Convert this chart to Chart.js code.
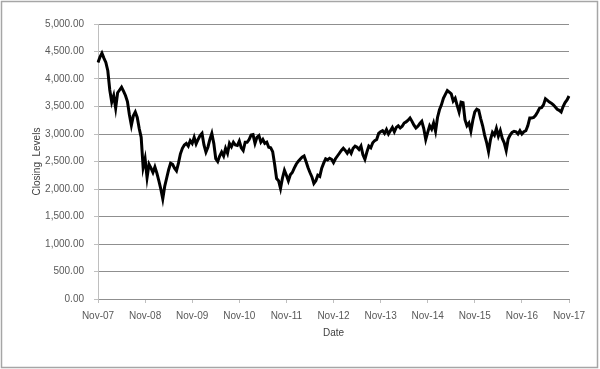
<!DOCTYPE html>
<html>
<head>
<meta charset="utf-8">
<script src="https://cdn.jsdelivr.net/npm/chart.js@4.4.1/dist/chart.umd.min.js"></script>
<style>
  html, body { margin: 0; padding: 0; background: #ffffff; }
  #wrap { position: relative; width: 600px; height: 369px; }
</style>
</head>
<body>
<div id="wrap"><canvas id="chart" width="600" height="369"></canvas></div>
<script>
// Tick labels along the date axis (one every 24 half-month periods)
const tickLabels = ['Nov-07', 'Nov-08', 'Nov-09', 'Nov-10', 'Nov-11', 'Nov-12',
                    'Nov-13', 'Nov-14', 'Nov-15', 'Nov-16', 'Nov-17'];
const periodsPerTick = 24;

// Closing levels, read off the picture roughly twice a month, Nov-07 .. Nov-17
const closingLevels = [
  4300, 4400, 4470, 4380, 4300, 4150, 3800, 3580, 3700, 3470,
  3750, 3800, 3850, 3780, 3700, 3590, 3350, 3160, 3330, 3400,
  3300, 3100, 2940, 2390, 2550, 2210, 2450, 2380, 2300, 2400,
  2290, 2150, 2000, 1820, 2050, 2200, 2350, 2470, 2450, 2380,
  2330, 2470, 2640, 2740, 2800, 2830, 2780, 2880, 2830, 2940,
  2820, 2900, 2970, 3010, 2800, 2670, 2760, 2900, 3010, 2830,
  2550, 2500, 2600, 2670, 2600, 2740, 2650, 2830, 2770, 2850,
  2800, 2790, 2870, 2750, 2700, 2850, 2850, 2900, 2980, 2990,
  2830, 2940, 2970, 2850, 2900, 2830, 2850, 2760, 2750, 2680,
  2450, 2190, 2150, 2010, 2200, 2340, 2250, 2150, 2260, 2300,
  2380, 2450, 2500, 2540, 2580, 2600, 2500, 2390, 2300, 2220,
  2100, 2150, 2250, 2230, 2380, 2470, 2550, 2530, 2560, 2540,
  2480, 2550, 2600, 2650, 2700, 2740, 2700, 2650, 2710, 2650,
  2740, 2780, 2760, 2720, 2780, 2620, 2540, 2670, 2780, 2750,
  2840, 2880, 2900, 3010, 3040, 3060, 3010, 3080, 3000, 3060,
  3120, 3040, 3120, 3150, 3110, 3140, 3200, 3220, 3250, 3290,
  3230, 3160, 3110, 3140, 3190, 3230, 3100, 2900, 3030, 3150,
  3090, 3200, 3050, 3300, 3440, 3530, 3650, 3720, 3790, 3760,
  3730, 3600, 3650, 3520, 3400, 3580, 3570, 3260, 3150, 3200,
  3050, 3250, 3400, 3450, 3430, 3280, 3150, 2980, 2850, 2680,
  2900, 3030, 2980, 3100, 2960, 3060, 2920, 2840, 2700, 2910,
  2980, 3030, 3050, 3040, 3000, 3060, 3000, 3040, 3060, 3150,
  3290, 3290, 3300, 3340, 3400, 3470, 3480, 3530, 3640, 3610,
  3580, 3560, 3530, 3490, 3450, 3430, 3400, 3500, 3570, 3620,
  3690
];

const yMin = 0;
const yMax = 5000;
const yStep = 500;

const textColor = '#595959';
const gridColor = '#8f8f8f';

// outer frame like the spreadsheet chart border
const framePlugin = {
  id: 'frame',
  afterDraw(chart) {
    const ctx = chart.ctx;
    ctx.save();
    ctx.strokeStyle = '#a6a6a6';
    ctx.lineWidth = 1.5;
    ctx.strokeRect(1.5, 1.5, chart.width - 4, chart.height - 3);
    ctx.restore();
  }
};

const fmt = new Intl.NumberFormat('en-US', { minimumFractionDigits: 2, maximumFractionDigits: 2 });

new Chart(document.getElementById('chart'), {
  type: 'line',
  data: {
    labels: closingLevels.map((_, i) => i),
    datasets: [{
      label: 'Closing Levels',
      data: closingLevels,
      borderColor: '#000000',
      borderWidth: 3,
      pointRadius: 0,
      tension: 0,
      fill: false
    }]
  },
  options: {
    responsive: false,
    animation: false,
    layout: { padding: { left: 31, right: 31, top: 24, bottom: 30 } },
    plugins: {
      legend: { display: false },
      tooltip: { enabled: false }
    },
    scales: {
      x: {
        type: 'category',
        offset: false,
        grid: { display: true, drawOnChartArea: false, drawTicks: true, tickLength: 4, color: '#bfbfbf' },
        border: { display: true, color: gridColor },
        ticks: {
          autoSkip: false,
          maxRotation: 0,
          padding: 8,
          color: textColor,
          font: { family: "'Liberation Sans', Arial, sans-serif", size: 10, lineHeight: 1 },
          callback: (val, i) => (i % periodsPerTick === 0 ? tickLabels[i / periodsPerTick] : null)
        },
        title: {
          display: true,
          text: 'Date',
          color: '#404040',
          font: { family: "'Liberation Sans', Arial, sans-serif", size: 10 },
          padding: { top: -2, bottom: 0 }
        }
      },
      y: {
        min: yMin,
        max: yMax,
        afterFit(scale) { scale.width = 67; },
        grid: { color: gridColor, lineWidth: 1, tickLength: 4, tickColor: '#bfbfbf' },
        border: { display: true, color: '#bfbfbf' },
        ticks: {
          stepSize: yStep,
          padding: 10,
          color: textColor,
          font: { family: "'Liberation Sans', Arial, sans-serif", size: 10 },
          callback: v => fmt.format(v)
        },
        title: {
          display: true,
          text: 'Closing  Levels',
          color: '#404040',
          font: { family: "'Liberation Sans', Arial, sans-serif", size: 10 },
          padding: 0
        }
      }
    }
  },
  plugins: [framePlugin]
});
</script>
</body>
</html>
